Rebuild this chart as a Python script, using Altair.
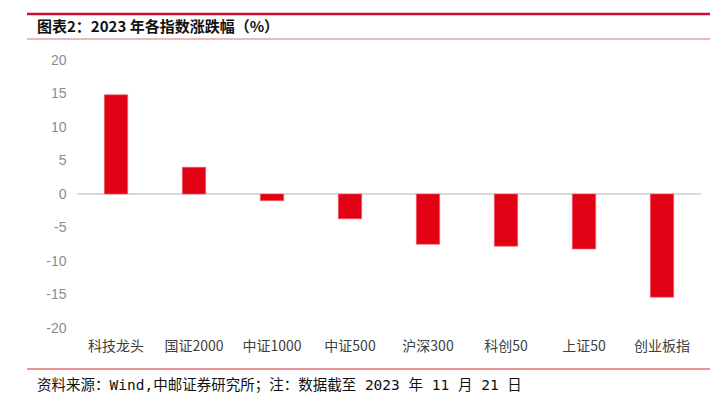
import altair as alt
import pandas as pd

categories = ["科技龙头", "国证2000", "中证1000", "中证500", "沪深300", "科创50", "上证50", "创业板指"]
values = [14.8, 4.0, -1.0, -3.7, -7.5, -7.8, -8.2, -15.4]
y_ticks = [-20, -15, -10, -5, 0, 5, 10, 15, 20]
title_text = "图表2：2023 年各指数涨跌幅（%）"
source_text = "资料来源：Wind,中邮证券研究所；注：数据截至 2023 年 11 月 21 日"

df = pd.DataFrame({"cat": categories, "val": values})

FONT = "Noto Sans CJK SC"
W, H = 624, 268

y_axis = alt.Axis(values=y_ticks, domain=False, ticks=False, grid=False,
                  labelOverlap=False, labelExpr="'' + datum.value",
                  labelPadding=11, labelFontSize=14, labelColor="#8c8c8c",
                  labelFont="Liberation Sans")
y_scale = alt.Scale(domain=[-20, 20], nice=False)

bars = alt.Chart(df).mark_bar(color="#e10014", stroke="#f06070", strokeWidth=0.6).encode(
    x=alt.X("cat:N", sort=categories, title=None,
            scale=alt.Scale(paddingInner=0.7, paddingOuter=0.35),
            axis=alt.Axis(labelAngle=0, domain=False, ticks=False, labelPadding=11,
                          labelFontSize=14, labelColor="#404040", labelFont=FONT)),
    y=alt.Y("val:Q", title=None, scale=y_scale, axis=y_axis),
)

zero = alt.Chart(pd.DataFrame({"z": [0]})).mark_rule(color="#d9d9d9", strokeWidth=2).encode(
    y=alt.Y("z:Q", title=None, scale=y_scale, axis=y_axis), x=alt.value(0), x2=alt.value(W)
)

top_line = alt.Chart(pd.DataFrame({"a": [0]})).mark_rule(color="#c8102e", strokeWidth=2.5).encode(
    x=alt.value(-50), x2=alt.value(633), y=alt.value(-46)
)
sub_line = alt.Chart(pd.DataFrame({"a": [0]})).mark_rule(color="#e07070", strokeWidth=1.2).encode(
    x=alt.value(-50), x2=alt.value(633), y=alt.value(-21)
)
bottom_line = alt.Chart(pd.DataFrame({"a": [0]})).mark_rule(color="#e07070", strokeWidth=1.5).encode(
    x=alt.value(-50), x2=alt.value(633), y=alt.value(309)
)

title = alt.Chart(pd.DataFrame({"t": [title_text]})).mark_text(
    align="left", baseline="middle", fontSize=15, fontWeight="bold", font=FONT, color="#111111"
).encode(text="t:N", x=alt.value(-40), y=alt.value(-33))

source = alt.Chart(pd.DataFrame({"t": [source_text]})).mark_text(
    align="left", baseline="middle", fontSize=14.5, font="DejaVu Sans Mono, Noto Sans CJK SC",
    color="#111111"
).encode(text="t:N", x=alt.value(-40), y=alt.value(326))

chart = alt.layer(zero, bars, top_line, sub_line, bottom_line, title, source).properties(
    width=W, height=H,
    autosize=alt.AutoSizeParams(type="none"),
    padding={"left": 69, "top": 52, "right": 9, "bottom": 66},
).configure_view(stroke=None)

chart.save("out.html", embed_options={"renderer": "svg", "actions": False})
